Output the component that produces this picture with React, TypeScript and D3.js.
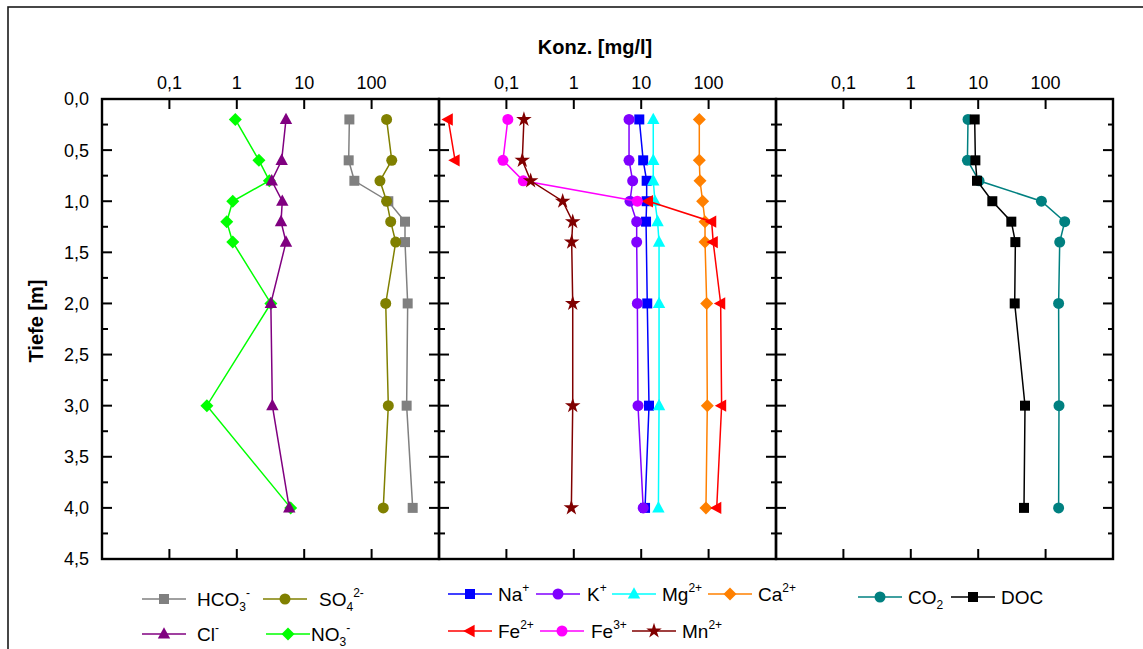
import React from 'react';
import * as d3 from 'd3';

// ---------- DATA ----------
const depths = [0.2, 0.6, 0.8, 1.0, 1.2, 1.4, 2.0, 3.0, 4.0];
const yTicks = [0, 0.5, 1, 1.5, 2, 2.5, 3, 3.5, 4, 4.5];
const xTicks = [0.1, 1, 10, 100];
const xTickLabels = ['0,1', '1', '10', '100'];

// panel 1 (anions)
const hco3 = [46.8, 45.7, 55.5, 177, 313, 313, 343, 331, 407];
const so4 = [167, 199, 133, 167, 192, 228, 162, 177, 149];
const cl = [5.37, 4.63, 3.3, 4.73, 4.53, 5.37, 3.2, 3.37, 6.0];
const no3 = [0.95, 2.13, 3.04, 0.87, 0.71, 0.87, 3.2, 0.36, 6.3];

// panel 2 (cations)
const na = [9.37, 10.7, 12.05, 12.05, 11.8, null, 12.3, 13.06, 11.4];
const k = [6.6, 6.6, 7.47, 6.82, 8.57, 8.57, 8.77, 8.97, 10.7];
const mg = [15.1, 15.1, 15.1, 16.0, 17.5, 18.4, 18.4, 18.4, 18.0];
const ca = [72.8, 72.8, 74.5, 81.6, 88.5, 88.5, 93.7, 95.7, 91.4];
const fe2 = [0.0137, 0.0173, null, 12.8, 111, 117, 151, 156, 132];
const fe3 = [0.105, 0.089, 0.178, 8.77, null, null, null, null, null];
const mn = [0.182, 0.172, 0.229, 0.684, 0.964, 0.93, 0.964, 0.964, 0.92];

// panel 3
const co2 = [7.06, 6.92, 10.3, 86.7, 192, 162, 156, 158, 156];
const doc = [8.87, 9.08, 9.6, 16.2, 31.0, 35.6, 34.8, 49.5, 47.8];

type Part = { t: string; sub?: boolean; sup?: boolean };
type Series = {
  values: (number | null)[];
  color: string;
  shape: string;
  label: Part[];
  gap?: boolean;
  lg: [number, number]; // legend position (line start x, line y)
  textDx: number;
};

const FONT = 'Liberation Sans, Arial, Helvetica, sans-serif';

const panels: { left: number; series: Series[] }[] = [
  {
    left: 102,
    series: [
      { values: hco3, color: '#808080', shape: 'square', label: [{ t: 'HCO' }, { t: '3', sub: true }, { t: '-', sup: true }], lg: [142, 599], textDx: 55 },
      { values: so4, color: '#808000', shape: 'circle', label: [{ t: 'SO' }, { t: '4', sub: true }, { t: '2-', sup: true }], lg: [263, 599], textDx: 56 },
      { values: no3, color: '#00ff00', shape: 'diamond', label: [{ t: 'NO' }, { t: '3', sub: true }, { t: '-', sup: true }], lg: [266, 634], textDx: 45 },
      { values: cl, color: '#800080', shape: 'triangle', label: [{ t: 'Cl' }, { t: '-', sup: true }], lg: [142, 634], textDx: 55 },
    ],
  },
  {
    left: 439,
    series: [
      { values: na, color: '#0000ff', shape: 'square', label: [{ t: 'Na' }, { t: '+', sup: true }], lg: [448, 594], textDx: 50 },
      { values: k, color: '#8000ff', shape: 'circle', label: [{ t: 'K' }, { t: '+', sup: true }], lg: [536, 594], textDx: 51 },
      { values: mg, color: '#00ffff', shape: 'triangle', label: [{ t: 'Mg' }, { t: '2+', sup: true }], lg: [612, 594], textDx: 50 },
      { values: ca, color: '#ff8000', shape: 'diamond', label: [{ t: 'Ca' }, { t: '2+', sup: true }], lg: [708, 594], textDx: 50 },
      { values: fe2, color: '#ff0000', shape: 'tleft', gap: true, label: [{ t: 'Fe' }, { t: '2+', sup: true }], lg: [448, 631], textDx: 50 },
      { values: fe3, color: '#ff00ff', shape: 'circle', label: [{ t: 'Fe' }, { t: '3+', sup: true }], lg: [540, 631], textDx: 51 },
      { values: mn, color: '#800000', shape: 'star', label: [{ t: 'Mn' }, { t: '2+', sup: true }], lg: [632, 631], textDx: 50 },
    ],
  },
  {
    left: 776,
    series: [
      { values: co2, color: '#008080', shape: 'circle', label: [{ t: 'CO' }, { t: '2', sub: true }], lg: [858, 597], textDx: 50 },
      { values: doc, color: '#000000', shape: 'square', label: [{ t: 'DOC' }], lg: [951, 597], textDx: 50 },
    ],
  },
];

const PW = 337;
const TOP = 99;
const BOTTOM = 559;

function markerPath(shape: string): string {
  switch (shape) {
    case 'square':
      return 'M-5,-5H5V5H-5Z';
    case 'circle':
      return d3.symbol(d3.symbolCircle, 95)() as string;
    case 'triangle':
      return 'M0,-6.8L6.2,4.6L-6.2,4.6Z';
    case 'tleft':
      return 'M-6.8,0L4.6,-6.2L4.6,6.2Z';
    case 'diamond':
      return 'M0,-6.5L6.5,0L0,6.5L-6.5,0Z';
    case 'star':
      return d3.symbol(d3.symbolStar, 75)() as string;
  }
  return '';
}

function Label({ parts, x, y }: { parts: Part[]; x: number; y: number }) {
  let cur = 0;
  return (
    <text x={x} y={y} fontFamily={FONT} fontSize={19} fill="#000">
      {parts.map((p, i) => {
        let dy = 0;
        const target = p.sub ? 5 : p.sup ? -9 : 0;
        dy = target - cur;
        cur = target;
        return (
          <tspan key={i} dy={dy} fontSize={p.sub || p.sup ? 12 : 19}>
            {p.t}
          </tspan>
        );
      })}
    </text>
  );
}

export default function App() {
  const y = d3.scaleLinear().domain([0, 4.5]).range([TOP, BOTTOM]);
  const minorTicks = d3.range(0.25, 4.5, 0.5);

  return (
    <svg
      width={1143}
      height={649}
      style={{ position: 'absolute', left: 0, top: 0, background: '#fff' }}
    >
      <rect x={0} y={0} width={1143} height={649} fill="#fff" />
      {/* outer frame */}
      <rect x={8} y={7} width={1200} height={700} fill="none" stroke="#1a1a1a" strokeWidth={1.6} />

      {/* titles */}
      <text x={595} y={54} textAnchor="middle" fontFamily={FONT} fontWeight="bold" fontSize={20}>
        Konz. [mg/l]
      </text>
      <text
        transform={`translate(43,${321}) rotate(-90)`}
        textAnchor="middle"
        fontFamily={FONT}
        fontWeight="bold"
        fontSize={20}
      >
        Tiefe [m]
      </text>

      {/* y tick labels */}
      {yTicks.map((t) => (
        <text key={t} x={89} y={y(t)} dy="0.36em" textAnchor="end" fontFamily={FONT} fontSize={18}>
          {d3.format('.1f')(t).replace('.', ',')}
        </text>
      ))}

      {panels.map((p, pi) => {
        const x = d3.scaleLog().domain([0.01, 1000]).range([p.left, p.left + PW]);
        const R = p.left + PW;
        return (
          <g key={pi}>
            {/* x ticks and labels */}
            {xTicks.map((t, i) => (
              <g key={t}>
                <line x1={x(t)} x2={x(t)} y1={TOP} y2={TOP + 10} stroke="#000" strokeWidth={2} />
                <line x1={x(t)} x2={x(t)} y1={BOTTOM} y2={BOTTOM - 10} stroke="#000" strokeWidth={2} />
                <text x={x(t)} y={89} textAnchor="middle" fontFamily={FONT} fontSize={18}>
                  {xTickLabels[i]}
                </text>
              </g>
            ))}
            {/* y ticks */}
            {yTicks.map((t) => (
              <g key={t}>
                <line x1={p.left} x2={p.left + 10} y1={y(t)} y2={y(t)} stroke="#000" strokeWidth={2} />
                <line x1={R} x2={R - 10} y1={y(t)} y2={y(t)} stroke="#000" strokeWidth={2} />
              </g>
            ))}
            {minorTicks.map((t) => (
              <g key={t}>
                <line x1={p.left} x2={p.left + 6} y1={y(t)} y2={y(t)} stroke="#000" strokeWidth={2} />
                <line x1={R} x2={R - 5} y1={y(t)} y2={y(t)} stroke="#000" strokeWidth={2} />
              </g>
            ))}
            {/* series */}
            {p.series.map((s, si) => {
              const pts = depths
                .map((d, i) => ({ d, v: s.values[i] }))
                .filter((q) => s.gap || q.v != null);
              const line = d3
                .line<{ d: number; v: number | null }>()
                .defined((q) => q.v != null)
                .x((q) => x(q.v as number))
                .y((q) => y(q.d));
              const mp = markerPath(s.shape);
              return (
                <g key={si}>
                  <path d={line(pts) || ''} fill="none" stroke={s.color} strokeWidth={1.5} />
                  {pts
                    .filter((q) => q.v != null)
                    .map((q, qi) => (
                      <path
                        key={qi}
                        d={mp}
                        transform={`translate(${x(q.v as number)},${y(q.d)})`}
                        fill={s.color}
                      />
                    ))}
                </g>
              );
            })}
            {/* frame */}
            <rect x={p.left} y={TOP} width={PW} height={BOTTOM - TOP} fill="none" stroke="#000" strokeWidth={2.4} />
            {/* legend */}
            {p.series.map((s, si) => (
              <g key={'lg' + si}>
                <line x1={s.lg[0]} x2={s.lg[0] + 44} y1={s.lg[1]} y2={s.lg[1]} stroke={s.color} strokeWidth={1.5} />
                <path d={markerPath(s.shape)} transform={`translate(${s.lg[0] + 22},${s.lg[1]})`} fill={s.color} />
                <Label parts={s.label} x={s.lg[0] + s.textDx} y={s.lg[1] + 7} />
              </g>
            ))}
          </g>
        );
      })}
    </svg>
  );
}
